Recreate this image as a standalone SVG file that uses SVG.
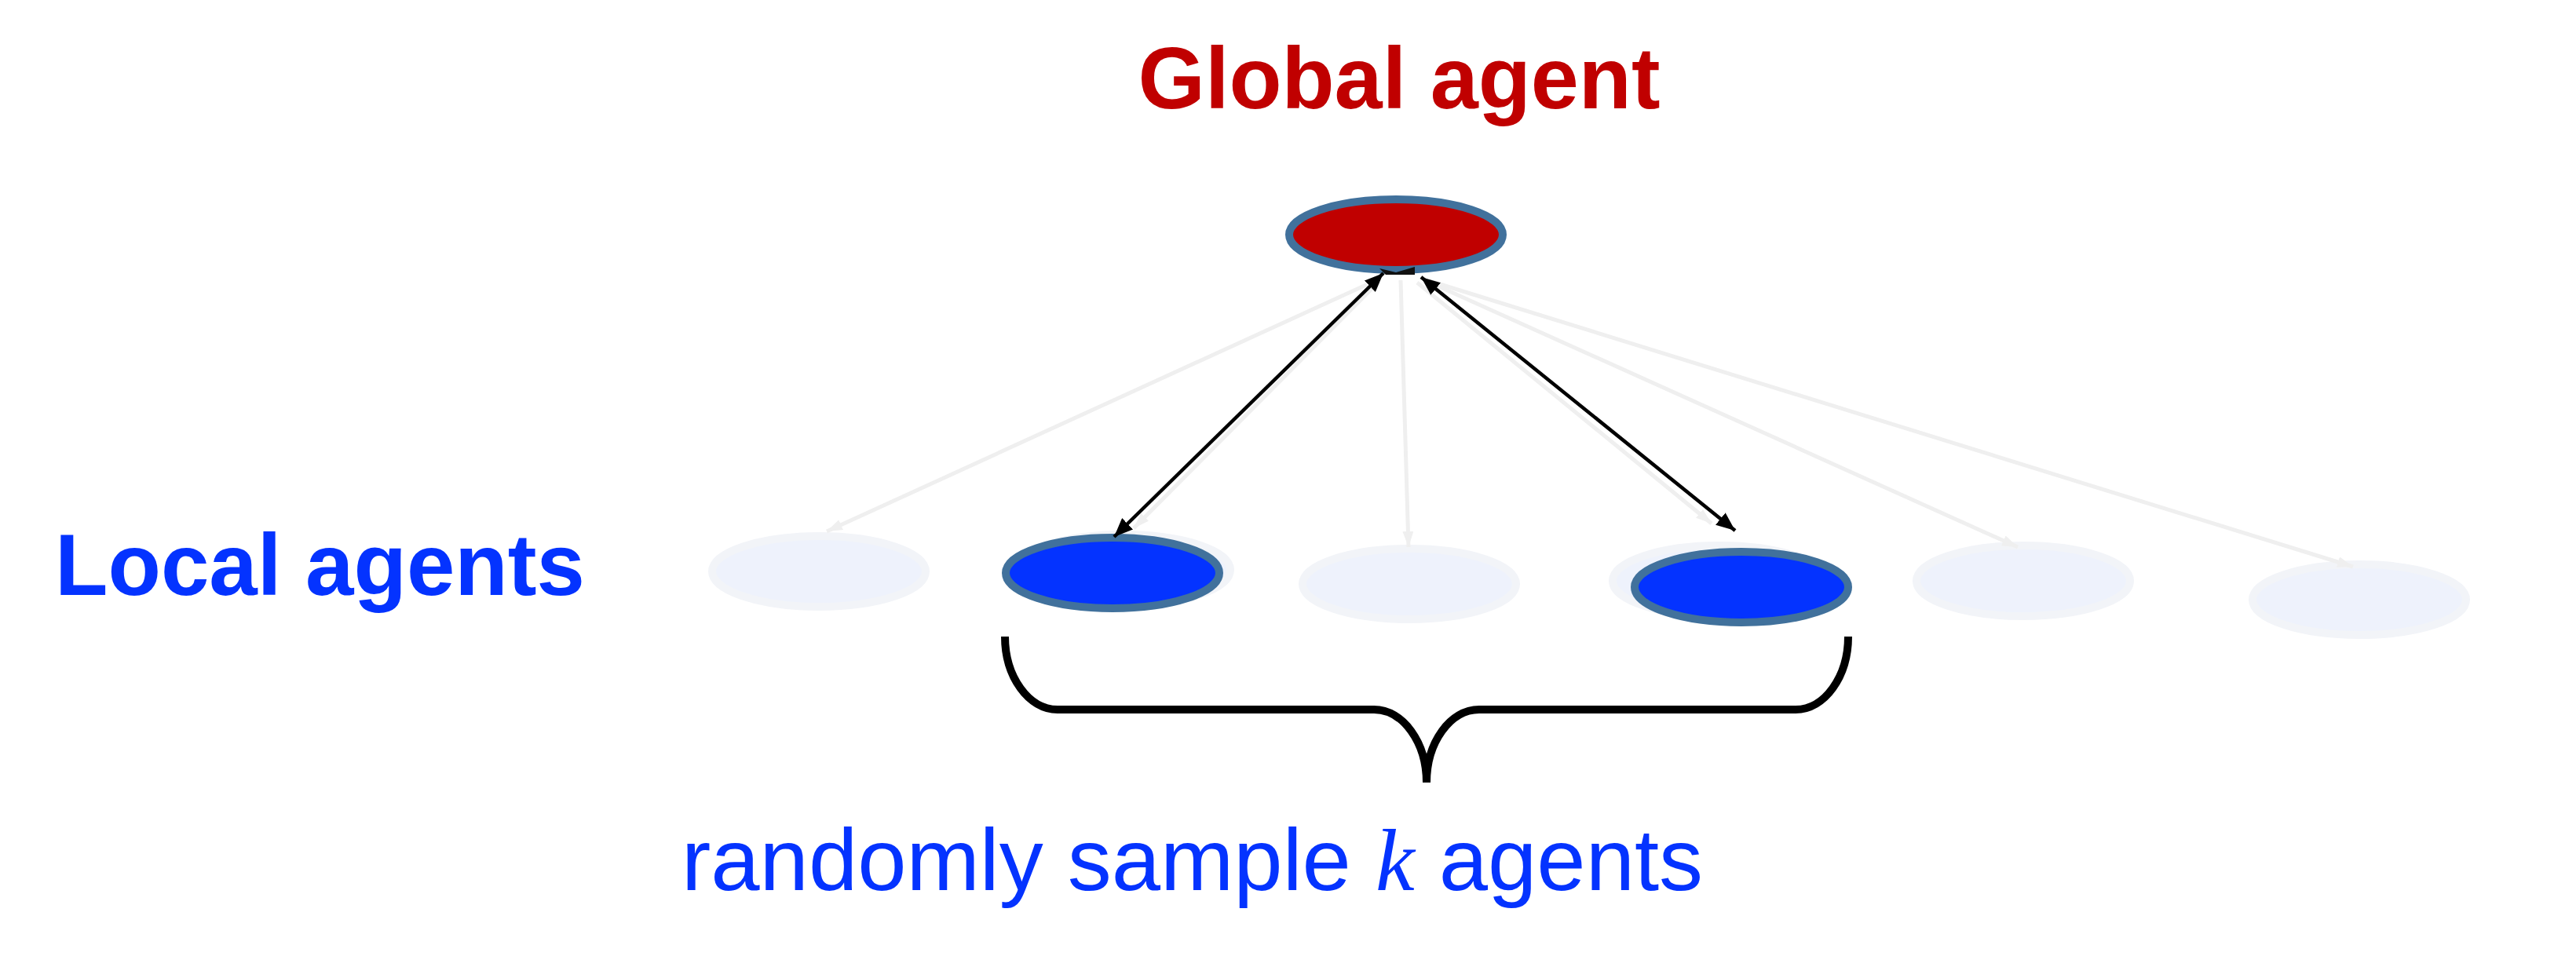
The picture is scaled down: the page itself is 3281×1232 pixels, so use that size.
<svg xmlns="http://www.w3.org/2000/svg" width="3281" height="1232" viewBox="0 0 3281 1232">
<style>
.title{font-family:"Liberation Sans",Arial,sans-serif;font-weight:bold;font-size:112px}
.cap{font-family:"Liberation Sans",Arial,sans-serif;font-size:112px;fill:#0433FF}
.faint{fill:#EEF2FC;stroke:#F2F4F8;stroke-width:10}
.blue{fill:#0433FF;stroke:#41719C;stroke-width:10}
.red{fill:#C00000;stroke:#41719C;stroke-width:10}
.fl{stroke:#EFEFEF;stroke-width:5;fill:none;marker-end:url(#fh)}
.bl{stroke:#000;stroke-width:4.5;fill:none;marker-start:url(#bh);marker-end:url(#bh)}
.brace{stroke:#000;stroke-width:10;fill:none}
</style>
<defs>
<marker id="fh" markerUnits="userSpaceOnUse" viewBox="0 0 20 14" refX="20" refY="7" markerWidth="20" markerHeight="14" orient="auto"><path d="M0,0 L20,7 L0,14 Z" fill="#EFEFEF"/></marker>
<marker id="bh" markerUnits="userSpaceOnUse" viewBox="0 0 24 20" refX="24" refY="10" markerWidth="24" markerHeight="20" orient="auto-start-reverse"><path d="M0,0 L24,10 L0,20 Z" fill="#000"/></marker>
</defs>
<rect width="3281" height="1232" fill="#fff"/>
<g id="local-agent-1"><ellipse class="faint" cx="1043" cy="728" rx="136" ry="45"/></g>
<g id="local-agent-2"><ellipse class="faint" cx="1431" cy="726" rx="136" ry="45"/></g>
<g id="local-agent-3"><ellipse class="faint" cx="1795" cy="744" rx="136" ry="45"/></g>
<g id="local-agent-4"><ellipse class="faint" cx="2190" cy="740" rx="136" ry="45"/></g>
<g id="local-agent-5"><ellipse class="faint" cx="2577" cy="740" rx="136" ry="45"/></g>
<g id="local-agent-6"><ellipse class="faint" cx="3005" cy="764" rx="136" ry="45"/></g>
<g id="faint-connectors">
<line class="fl" x1="1753" y1="357" x2="1053" y2="677"/>
<line class="fl" x1="1755" y1="360" x2="1444" y2="673"/>
<line class="fl" x1="1784" y1="357" x2="1794" y2="697"/>
<line class="fl" x1="1805" y1="360" x2="2180" y2="667"/>
<line class="fl" x1="1817" y1="358" x2="2570" y2="697"/>
<line class="fl" x1="1821" y1="358" x2="2997" y2="722"/>
</g>
<g id="sampled-agent-1"><ellipse class="blue" cx="1417" cy="730" rx="136" ry="45"/></g>
<g id="sampled-agent-2"><ellipse class="blue" cx="2218" cy="748" rx="136" ry="45"/></g>
<g id="global-agent"><ellipse class="red" cx="1778" cy="299" rx="136" ry="45"/>
<text class="title" x="1782" y="138" text-anchor="middle" fill="#C00000" textLength="665" lengthAdjust="spacingAndGlyphs">Global agent</text></g>
<g id="connectors">
<line class="bl" x1="1762" y1="348" x2="1419" y2="684"/>
<line class="bl" x1="1810" y1="353" x2="2210" y2="676"/>
<polygon points="1757,342 1778,347 1802,340 1802,350 1765,350" fill="#111"/>
</g>
<g id="local-label"><text class="title" x="70" y="758" fill="#0433FF" textLength="675" lengthAdjust="spacingAndGlyphs">Local agents</text></g>
<g id="brace"><path class="brace" d="M1280,811 C1280,862 1310,904 1347,904 L1750,904 C1787,904 1817,946 1817,997 C1817,946 1847,904 1884,904 L2287,904 C2324,904 2354,862 2354,811"/></g>
<g id="sample-label"><text class="cap" x="868" y="1134">randomly sample <tspan font-family="'Liberation Serif',serif" font-style="italic">k</tspan> agents</text></g>
</svg>
